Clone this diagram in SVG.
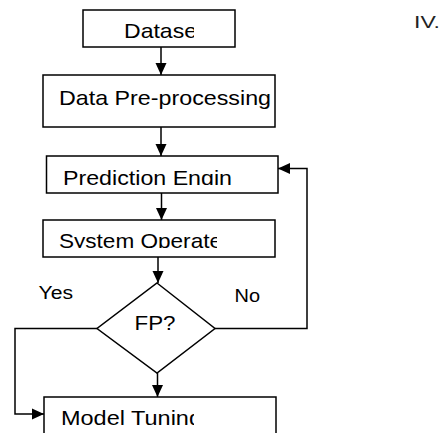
<svg xmlns="http://www.w3.org/2000/svg" width="441" height="433" viewBox="0 0 441 433">
<style>
.box{fill:#fff;stroke:#000;stroke-width:1.5}
.t{font-family:"Liberation Sans",Arial,sans-serif;font-size:21px;fill:#000}
.l{font-family:"Liberation Sans",Arial,sans-serif;font-size:18px;fill:#000}
.c{fill:none;stroke:#000;stroke-width:1.5}
</style>
<defs>
<marker id="ah" markerWidth="12" markerHeight="12" refX="12" refY="6" orient="auto" markerUnits="userSpaceOnUse">
<path d="M0,0.5 L12,6 L0,11.5 Z" fill="#000"/>
</marker>
<clipPath id="c1"><rect x="83" y="10" width="111" height="37"/></clipPath>
<clipPath id="c3"><rect x="46" y="156" width="232" height="29"/></clipPath>
<clipPath id="c4"><rect x="43" y="220" width="174" height="28"/></clipPath>
<clipPath id="c5"><rect x="44" y="397" width="150" height="29"/></clipPath>
</defs>
<rect width="441" height="433" fill="#fff"/>
<g id="connectors">
<line class="c" x1="161" y1="47" x2="161" y2="75" marker-end="url(#ah)"/>
<line class="c" x1="161" y1="127" x2="161" y2="156" marker-end="url(#ah)"/>
<line class="c" x1="161.5" y1="193" x2="161.5" y2="220" marker-end="url(#ah)"/>
<line class="c" x1="158" y1="257" x2="158" y2="283" marker-end="url(#ah)"/>
<line class="c" x1="157.5" y1="373" x2="157.5" y2="397" marker-end="url(#ah)"/>
<path class="c" d="M97,328.5 H15 V414 H44" marker-end="url(#ah)"/>
<path class="c" d="M215,328.5 H307 V168.5 H278" marker-end="url(#ah)"/>
</g>
<g id="dataset">
<rect class="box" x="83" y="10" width="152" height="37"/>
<text class="t" x="124" y="37.5" textLength="73" lengthAdjust="spacingAndGlyphs" clip-path="url(#c1)">Datase</text>
</g>
<g id="preprocessing">
<rect class="box" x="43" y="75" width="232" height="52"/>
<text class="t" x="59" y="104.5" textLength="212" lengthAdjust="spacingAndGlyphs">Data Pre-processing</text>
</g>
<g id="prediction">
<rect class="box" x="46.5" y="156" width="231.5" height="37"/>
<text class="t" x="63" y="184.5" textLength="169" lengthAdjust="spacingAndGlyphs" clip-path="url(#c3)">Prediction Engin</text>
</g>
<g id="system">
<rect class="box" x="43" y="220" width="232" height="37"/>
<text class="t" x="59" y="247.5" textLength="163" lengthAdjust="spacingAndGlyphs" clip-path="url(#c4)">System Operate</text>
</g>
<g id="fp">
<path class="box" d="M157,283 L215,328.5 L157,373 L97,328.5 Z"/>
<text class="t" x="134.5" y="329.5" textLength="41" lengthAdjust="spacingAndGlyphs">FP?</text>
</g>
<g id="tuning">
<rect class="box" x="44" y="397" width="232" height="50"/>
<text class="t" x="61" y="425" textLength="141" lengthAdjust="spacingAndGlyphs" clip-path="url(#c5)">Model Tuning</text>
</g>
<g id="labels">
<text class="l" x="38.5" y="298.5" textLength="34.5" lengthAdjust="spacingAndGlyphs">Yes</text>
<text class="l" x="234.5" y="301.7" textLength="25.5" lengthAdjust="spacingAndGlyphs">No</text>
<text class="l" x="414" y="28" textLength="26" lengthAdjust="spacingAndGlyphs" style="font-size:16px;fill:#222">IV.</text>
</g>
</svg>
